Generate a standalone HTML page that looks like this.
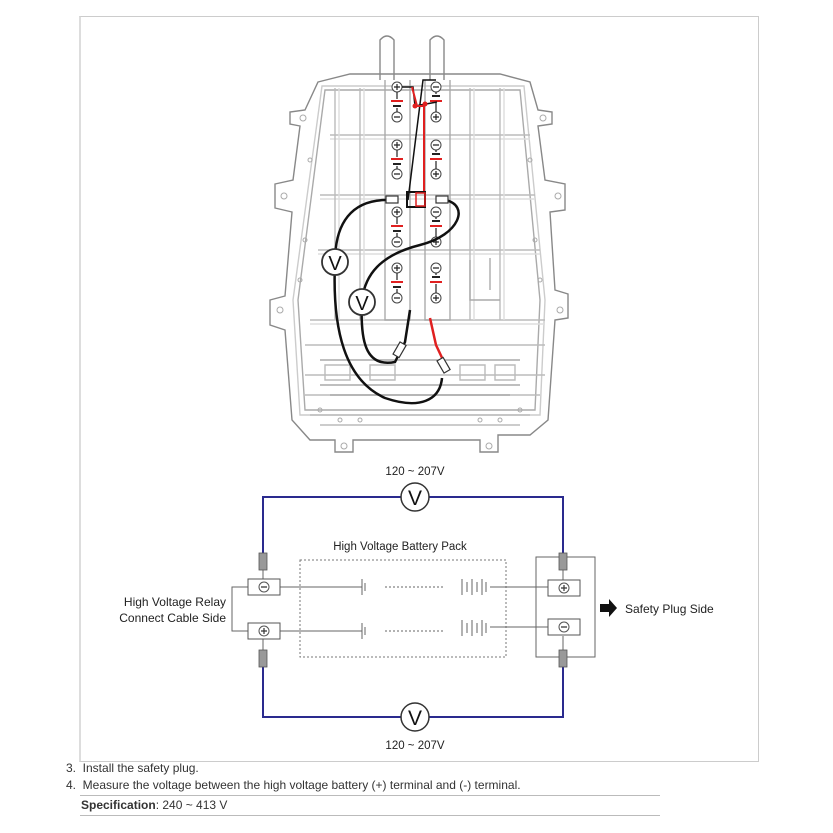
<!DOCTYPE html>
<html><head><meta charset="utf-8"><style>
html,body{margin:0;padding:0;background:#fff;}
body{width:833px;height:833px;position:relative;overflow:hidden;font-family:"Liberation Sans",sans-serif;}
.frame{position:absolute;left:79px;top:16px;width:677px;height:744px;border:1px solid #ccc;border-left:2px solid #ddd;}
.t{position:absolute;font-size:12px;color:#333;white-space:nowrap;}
.hr{position:absolute;left:80px;width:580px;height:1px;background:#bbb;}
</style></head><body>
<div class="frame"></div>
<svg width="833" height="833" style="position:absolute;left:0;top:0" font-family="Liberation Sans, sans-serif">
<!-- battery pack outline -->
<g fill="none" stroke="#888" stroke-width="1.4">
 <path d="M380 80 V40 Q387 32 394 40 V80 M430 80 V40 Q437 32 444 40 V80"/>
 <path d="M318 82 L350 74 H500 L530 82 L538 110 L552 112 V124 L538 126 L545 180 L565 184 V210 L550 212 L555 290 L568 294 V318 L555 320 L548 420 L530 435 H498 V452 H480 V440 H353 V452 H335 V440 H310 L292 420 L285 330 L270 325 V300 L285 296 L292 212 L275 208 V184 L293 180 L300 126 L290 124 V112 L305 110 Z"/>
 <path d="M325 90 H520 L540 300 L535 410 H305 L298 300 Z" stroke="#aaa"/>
 <path d="M322 86 H524 L545 300 L540 415 H300 L293 300 Z" stroke="#ccc"/>
 <path d="M330 135 H530 M320 195 H535 M318 250 H540 M310 320 H545 M305 345 H545 M305 375 H545 M305 395 H540" stroke="#bbb"/>
 <path d="M330 139 H530 M320 199 H535 M318 254 H540 M310 324 H545" stroke="#ddd"/>
 <path d="M360 88 V320 M470 88 V320 M500 88 V320 M335 88 V320" stroke="#bbb"/>
 <path d="M364 88 V320 M474 88 V320 M504 88 V320 M339 88 V320" stroke="#ddd"/>
 <path d="M385 80 V320 H410 V80 M425 80 V320 H450 V80" stroke="#aaa"/>
 <path d="M320 360 H520 M320 385 H520 M330 395 H510" stroke="#aaa"/>
 <path d="M325 365 H350 V380 H325 Z M370 365 H395 V380 H370 Z M460 365 H485 V380 H460 Z M495 365 H515 V380 H495 Z" stroke="#bbb"/>
 <path d="M310 415 H530 M320 425 H520" stroke="#bbb"/>
 <path d="M470 260 V300 H500 M490 258 V290" stroke="#aaa"/>
</g>
<g fill="none" stroke="#aaa" stroke-width="1">
 <circle cx="303" cy="118" r="3"/><circle cx="543" cy="118" r="3"/><circle cx="284" cy="196" r="3"/><circle cx="558" cy="196" r="3"/>
 <circle cx="280" cy="310" r="3"/><circle cx="560" cy="310" r="3"/><circle cx="344" cy="446" r="3"/><circle cx="489" cy="446" r="3"/>
 <circle cx="310" cy="160" r="2"/><circle cx="305" cy="240" r="2"/><circle cx="300" cy="280" r="2"/><circle cx="530" cy="160" r="2"/>
 <circle cx="535" cy="240" r="2"/><circle cx="540" cy="280" r="2"/><circle cx="320" cy="410" r="2"/><circle cx="340" cy="420" r="2"/>
 <circle cx="360" cy="420" r="2"/><circle cx="480" cy="420" r="2"/><circle cx="500" cy="420" r="2"/><circle cx="520" cy="410" r="2"/>
</g>
<!-- cells -->
<g font-size="9" text-anchor="middle" font-weight="bold" fill="#333">
 <g fill="#fff" stroke="#444" stroke-width="1">
  <circle cx="397" cy="87" r="5"/><circle cx="397" cy="117" r="5"/><circle cx="397" cy="145" r="5"/><circle cx="397" cy="174" r="5"/>
  <circle cx="397" cy="212" r="5"/><circle cx="397" cy="242" r="5"/><circle cx="397" cy="268" r="5"/><circle cx="397" cy="298" r="5"/>
  <circle cx="436" cy="87" r="5"/><circle cx="436" cy="117" r="5"/><circle cx="436" cy="145" r="5"/><circle cx="436" cy="174" r="5"/>
  <circle cx="436" cy="212" r="5"/><circle cx="436" cy="242" r="5"/><circle cx="436" cy="268" r="5"/><circle cx="436" cy="298" r="5"/>
 </g>
 <g stroke="#222" stroke-width="1.2">
  <path d="M394 87h6M397 84v6M394 117h6M394 145h6M397 142v6M394 174h6M394 212h6M397 209v6M394 242h6M394 268h6M397 265v6M394 298h6"/>
  <path d="M433 87h6M433 117h6M436 114v6M433 145h6M433 174h6M436 171v6M433 212h6M433 242h6M436 239v6M433 268h6M433 298h6M436 295v6"/>
  <path d="M397 92V99M397 108V112M397 150V157M397 166V169M397 217V224M397 233V237M397 273V280M397 289V293M436 92V94M436 103V112M436 150V152M436 161V169M436 217V219M436 228V237M436 273V275M436 284V293"/>
 </g>
 <g stroke="#e02020" stroke-width="2">
  <path d="M391 101h12M391 159h12M391 226h12M391 282h12M430 101h12M430 159h12M430 226h12M430 282h12"/>
 </g>
 <g stroke="#222" stroke-width="2">
  <path d="M393 106h8M393 164h8M393 231h8M393 287h8M432 96h8M432 154h8M432 221h8M432 277h8"/>
 </g>
 <path d="M402 87 H413 L415 106 L437 102 M436 80 H423 L408 200" stroke="#111" stroke-width="1.5" fill="none"/>
 <path d="M412 87 L417 106 H424 V192" stroke="#e02020" stroke-width="2" fill="none"/>
 <circle cx="415" cy="106" r="2.5" fill="#e02020"/><circle cx="425" cy="104" r="2.5" fill="#e02020"/>
 <rect x="407" y="192" width="18" height="15" fill="none" stroke="#111" stroke-width="2"/>
 <rect x="416" y="193" width="9" height="13" fill="none" stroke="#e02020" stroke-width="1.5"/>
</g>
<!-- cables -->
<g fill="none" stroke="#111" stroke-width="2.5">
 <path d="M392 200 C350 198 335 225 335 262 C332 330 345 380 385 398 C420 410 440 400 442 378"/>
 <path d="M445 200 C470 205 460 235 420 245 C380 255 365 275 362 300 C360 340 365 368 395 362 L405 342 L410 310"/>
</g>
<path d="M430 318 L436 345 L444 362" stroke="#e02020" stroke-width="2.5" fill="none"/>
<g fill="#fff" stroke="#333" stroke-width="1.2">
 <rect x="386" y="196" width="12" height="7"/><rect x="436" y="196" width="12" height="7"/>
 <rect x="396" y="343" width="7" height="14" transform="rotate(30 400 350)"/>
 <rect x="440" y="358" width="7" height="14" transform="rotate(-30 444 365)"/>
 <circle cx="335" cy="262" r="13" stroke-width="1.8"/><circle cx="362" cy="302" r="13" stroke-width="1.8"/>
</g>
<text x="335" y="270" font-size="20" text-anchor="middle" fill="#111">V</text>
<text x="362" y="310" font-size="20" text-anchor="middle" fill="#111">V</text>

<!-- lower circuit -->
<g fill="none" stroke="#2a2a8e" stroke-width="2">
 <path d="M263 553 V497 H563 V553"/>
 <path d="M263 667 V717 H563 V662"/>
</g>
<g fill="#fff" stroke="#333" stroke-width="1.5">
 <circle cx="415" cy="497" r="14"/><circle cx="415" cy="717" r="14"/>
</g>
<text x="415" y="505" font-size="21" text-anchor="middle" fill="#111">V</text>
<text x="415" y="725" font-size="21" text-anchor="middle" fill="#111">V</text>
<text x="415" y="475" font-size="11.5" text-anchor="middle" fill="#222">120 ~ 207V</text>
<text x="415" y="749" font-size="11.5" text-anchor="middle" fill="#222">120 ~ 207V</text>
<text x="400" y="550" font-size="11.5" text-anchor="middle" fill="#222">High Voltage Battery Pack</text>
<rect x="300" y="560" width="206" height="97" fill="none" stroke="#777" stroke-dasharray="2,2"/>
<rect x="536" y="557" width="59" height="100" fill="none" stroke="#666"/>
<g stroke="#666" stroke-width="1" fill="none">
 <path d="M263 570 V580 M263 638 V650 M563 570 V580 M563 636 V650"/>
 <path d="M280 587 H362 M280 631 H362 M490 587 H548 M490 627 H548"/>
 <path d="M362 579 V595 M365 583 V591 M362 623 V639 M365 627 V635"/>
 <path d="M385 587 H445 M385 631 H445" stroke-dasharray="2,2"/>
 <path d="M462 579 V595 M467 582 V592 M472 579 V595 M477 582 V592 M482 579 V595 M486 582 V592"/>
 <path d="M462 620 V636 M467 623 V633 M472 620 V636 M477 623 V633 M482 620 V636 M486 623 V633"/>
 <path d="M248 587 H232 V631 H248"/>
</g>
<g fill="#999" stroke="#555" stroke-width="0.8">
 <rect x="259" y="553" width="8" height="17"/><rect x="259" y="650" width="8" height="17"/>
 <rect x="559" y="553" width="8" height="17"/><rect x="559" y="650" width="8" height="17"/>
</g>
<g fill="#fff" stroke="#555" stroke-width="1">
 <rect x="248" y="579" width="32" height="16"/><rect x="248" y="623" width="32" height="16"/>
 <rect x="548" y="580" width="32" height="16"/><rect x="548" y="619" width="32" height="16"/>
 <circle cx="264" cy="587" r="5"/><circle cx="264" cy="631" r="5"/><circle cx="564" cy="588" r="5"/><circle cx="564" cy="627" r="5"/>
</g>
<g stroke="#333" stroke-width="1.2">
 <path d="M261 587h6M261 631h6M264 628v6M561 588h6M564 585v6M561 627h6"/>
</g>
<text x="226" y="606" font-size="12" text-anchor="end" fill="#222">High Voltage Relay</text>
<text x="226" y="622" font-size="12" text-anchor="end" fill="#222">Connect Cable Side</text>
<path d="M600 604 H609 V599 L617 608 L609 617 V612 H600 Z" fill="#111"/>
<text x="625" y="613" font-size="12" fill="#222">Safety Plug Side</text>
</svg>
<div class="t" style="left:66px;top:761px">3.&nbsp; Install the safety plug.</div>
<div class="t" style="left:66px;top:778px">4.&nbsp; Measure the voltage between the high voltage battery (+) terminal and (-) terminal.</div>
<div class="hr" style="top:795px"></div>
<div class="t" style="left:81px;top:798px"><b>Specification</b>: 240 ~ 413 V</div>
<div class="hr" style="top:815px"></div>
</body></html>
